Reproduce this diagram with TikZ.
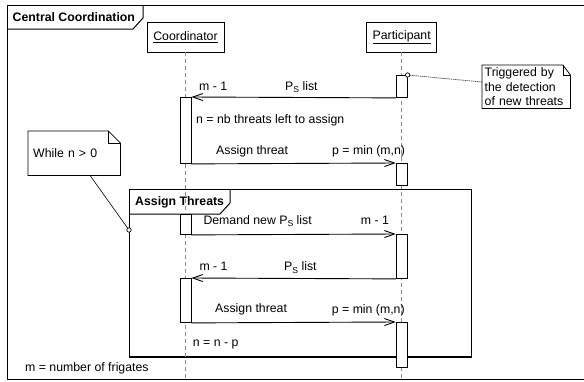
\documentclass[tikz,border=0pt]{standalone}
\usepackage{fontspec}
\setmainfont{Liberation Sans}
\usetikzlibrary{arrows.meta,calc}

\newcommand{\dgfont}{\fontsize{12.3}{14.3}\selectfont}
\newcommand{\subS}{\raisebox{-2.6pt}{\fontsize{8.6}{9}\selectfont S}}

\begin{document}
\begin{tikzpicture}[x=1pt,y=-1pt,
  every node/.style={font=\dgfont, inner sep=0pt},
  lbl/.style={anchor=base west},
  ttl/.style={anchor=base west, font=\dgfont\bfseries},
  framel/.style={draw=black, line width=1pt},
  lifebox/.style={draw=black, line width=0.9pt, fill=white, minimum height=30pt},
  lifeline/.style={draw=black!45, line width=0.9pt, dash pattern=on 4pt off 3pt},
  actbar/.style={draw=black, line width=0.9pt, fill=white, minimum width=11pt, anchor=north},
  msg/.style={draw=black, line width=0.9pt, -{Straight Barb[length=10pt,width=7pt]}},
  notel/.style={draw=black, line width=0.8pt},
  notebox/.style={anchor=north west, align=left},
  anchordot/.style={draw=black, line width=0.7pt, fill=white},
]
\useasboundingbox (0,0) rectangle (584,381);
\clip (0,0) rectangle (584,381);

% outer frame (open towards the right edge)
\draw[framel] (590,5) -- (7,5) -- (7,379.5);
\draw[line width=1.6pt] (7,379.5) -- (590,379.5);
\draw[framel] (7,29) -- (133,29) -- (143,18) -- (143,5);
\node[ttl] (cctitle) at (12.5,21) {Central Coordination};

% loop fragment
\node[draw=black, line width=1pt, minimum width=342pt, minimum height=167pt,
      anchor=north west] (loop) at (129,189) {};
\draw[line width=2pt] (loop.south west) -- (loop.south east);
\draw[framel] (129,214) -- (220,214) -- (230,203) -- (230,189);
\node[ttl] (looptitle) at (135,205) {Assign Threats};

% lifelines
\node[lifebox, minimum width=77pt] (coord) at (185.5,37) {\underline{Coordinator}};
\node[lifebox, minimum width=70pt] (part) at (401.7,37) {\underline{Participant}};
\coordinate (coordend) at (185.5,381);
\coordinate (partend) at (401.7,381);
\draw[lifeline] (coord) -- (coordend);
\draw[lifeline] (part) -- (partend);

% activation bars
\node[actbar, minimum height=22pt] (pa1) at (401.7,75) {};
\node[actbar, minimum height=66pt] (ca1) at (185.5,97) {};
\node[actbar, minimum height=22pt] (pa2) at (401.7,163) {};
\node[actbar, minimum height=20pt] (ca2) at (185.5,214) {};
\node[actbar, minimum height=44pt] (pa3) at (401.7,234) {};
\node[actbar, minimum height=44pt] (ca3) at (185.5,278) {};
\node[actbar, minimum height=45pt] (pa4) at (401.7,322) {};

% messages
\draw[msg] (pa1.south west) -- (ca1.north east);
\draw[msg] (ca1.south east) -- (pa2.north west);
\draw[msg] (ca2.south east) -- (pa3.north west);
\draw[msg] (pa3.south west) -- (ca3.north east);
\draw[msg] (ca3.south east) -- (pa4.north west);

% message labels
\node[lbl] (l1a) at (199,90) {m - 1};
\node[lbl] (l1b) at (285,90) {P\subS{} list};
\node[lbl] (l2) at (196,123) {n = nb threats left to assign};
\node[lbl] (l3a) at (216,154) {Assign threat};
\node[lbl] (l3b) at (332,154) {p = min (m,n)};
\node[lbl] (l4a) at (203.3,224) {Demand new P\subS{} list};
\node[lbl] (l4b) at (360.7,224) {m - 1};
\node[lbl] (l5a) at (199.3,270.7) {m - 1};
\node[lbl] (l5b) at (284,270.7) {P\subS{} list};
\node[lbl] (l6a) at (215,312) {Assign threat};
\node[lbl] (l6b) at (331.7,313) {p = min (m,n)};
\node[lbl] (l7) at (192.7,346.5) {n = n - p};
\node[lbl] (l8) at (25,371.5) {m = number of frigates};

% note: trigger
\node[notebox, minimum width=88pt, minimum height=43pt, text width=83pt]
  (trig) at (482,65) {Triggered by\\the detection\\of new threats};
\draw[notel] (trig.north west) -- ($(trig.north east)+(-7.5,0)$)
  -- ($(trig.north east)+(0,10)$) -- (trig.south east) -- (trig.south west) -- cycle;
\draw[notel] ($(trig.north east)+(-7.5,0)$) |- ($(trig.north east)+(0,10)$);
\coordinate (trigin) at ($(trig.north west)+(0,17)$);
\draw[line width=0.7pt, dash pattern=on 1pt off 1pt] (pa1.north east) -- (trigin);
\draw[anchordot] (pa1.north east) circle (2.2pt);

% note: loop condition
\node[notebox, minimum width=92pt, minimum height=44pt, text width=82pt]
  (whilenote) at (28,131) {While n > 0};
\draw[notel] (whilenote.north west) -- ($(whilenote.north east)+(-12,0)$)
  -- ($(whilenote.north east)+(0,12)$) -- (whilenote.south east)
  -- (whilenote.south west) -- cycle;
\draw[notel] ($(whilenote.north east)+(-12,0)$) |- ($(whilenote.north east)+(0,12)$);
\coordinate (whileout) at ($(whilenote.south west)+(62,0)$);
\coordinate (loopdot) at ($(loop.north west)+(0,41)$);
\draw[line width=0.6pt] (whileout) -- (loopdot);
\draw[anchordot] (loopdot) circle (2.2pt);
\end{tikzpicture}
\end{document}
